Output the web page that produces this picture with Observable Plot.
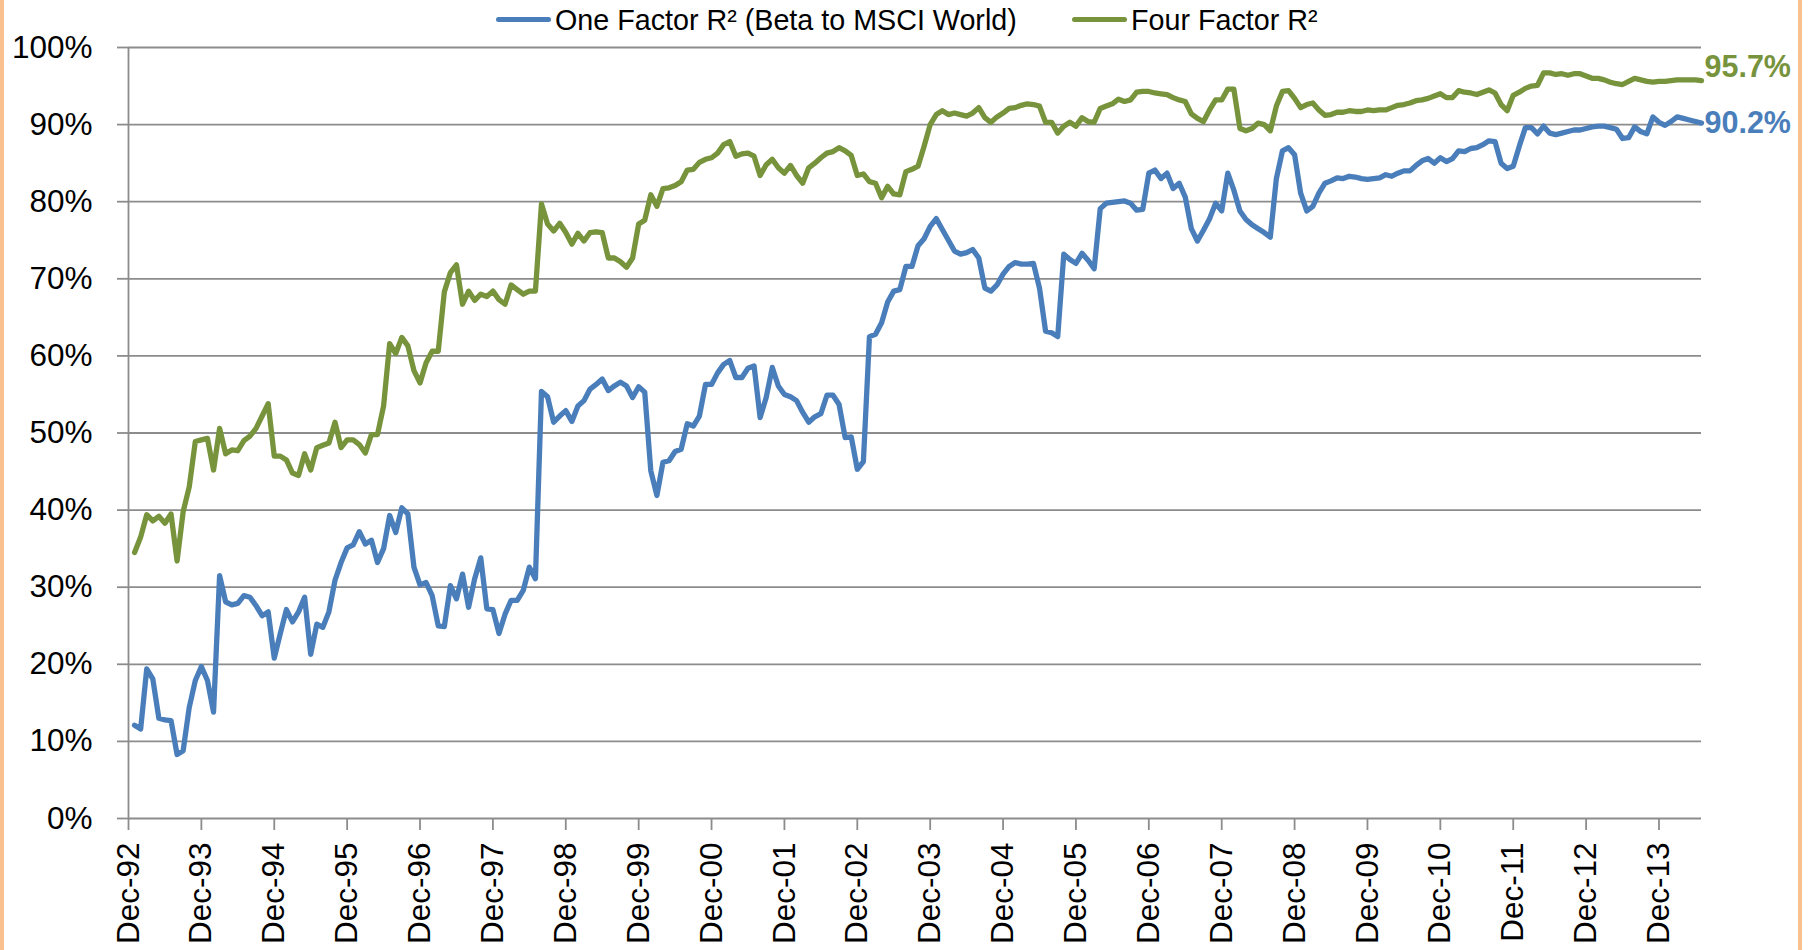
<!DOCTYPE html>
<html><head><meta charset="utf-8">
<script src="https://cdn.jsdelivr.net/npm/d3@7"></script>
<script src="https://cdn.jsdelivr.net/npm/@observablehq/plot@0.6"></script>
<style>
body{margin:0;background:#fff;}
#wrap{position:relative;width:1808px;height:950px;overflow:hidden;background:#fff;font-family:"Liberation Sans",Arial,sans-serif;}
.border{position:absolute;top:0;bottom:0;width:4px;background:#FAC090;}
.leg-line{position:absolute;height:5px;border-radius:3px;}
.leg-text{position:absolute;font-size:28.7px;line-height:1;color:#000;white-space:nowrap;}
#chart{position:absolute;left:0;top:0;}
</style></head>
<body><div id="wrap"><div id="chart"></div></div>
<script>
// ---- data ----
const seriesNames = ["One Factor R\u00B2 (Beta to MSCI World)", "Four Factor R\u00B2"];
const seriesColors = ["#4A7EBB", "#77933C"];
const xTickLabels = ["Dec-92","Dec-93","Dec-94","Dec-95","Dec-96","Dec-97","Dec-98","Dec-99","Dec-00","Dec-01","Dec-02","Dec-03","Dec-04","Dec-05","Dec-06","Dec-07","Dec-08","Dec-09","Dec-10","Dec-11","Dec-12","Dec-13"];
const yTicks = [0,10,20,30,40,50,60,70,80,90,100];
// monthly values, Jan-93 onward (%)
const oneFactor = [
12.1,11.6,19.4,18.1,13.0,12.8,12.7,8.3,8.8,14.4,17.9,19.7,
17.9,13.8,31.5,28.1,27.7,27.9,28.9,28.7,27.6,26.3,26.8,20.8,
24.0,27.1,25.5,26.8,28.7,21.3,25.2,24.8,26.8,30.9,33.2,35.1,
35.5,37.2,35.6,36.1,33.2,35.0,39.3,37.1,40.3,39.5,32.6,30.3,
30.6,28.9,25.0,24.9,30.2,28.5,31.7,27.4,31.1,33.8,27.2,27.1,
24.0,26.5,28.3,28.3,29.6,32.6,31.1,55.4,54.7,51.4,52.2,52.9,
51.5,53.5,54.2,55.7,56.3,57.0,55.5,56.1,56.6,56.1,54.6,56.0,
55.3,45.1,41.9,46.2,46.4,47.6,47.9,51.2,50.9,52.2,56.3,56.3,
57.8,58.9,59.4,57.2,57.2,58.4,58.7,52.0,54.6,58.5,56.1,55.0,
54.7,54.2,52.7,51.4,52.1,52.5,54.9,54.9,53.7,49.4,49.5,45.3,
46.3,62.5,62.8,64.3,67.0,68.4,68.6,71.6,71.6,74.3,75.2,76.8,
77.8,76.4,75.0,73.6,73.2,73.4,73.8,72.7,68.8,68.4,69.2,70.6,
71.6,72.1,71.9,71.9,72.0,68.8,63.2,63.0,62.5,73.2,72.5,72.0,
73.3,72.4,71.3,79.1,79.8,79.9,80.0,80.1,79.8,78.9,79.0,83.7,
84.1,83.0,83.7,81.7,82.4,80.6,76.5,74.9,76.3,77.8,79.8,78.8,
83.7,81.5,78.8,77.7,77.0,76.5,76.0,75.4,83.0,86.6,87.0,86.1,
81.1,78.8,79.4,81.1,82.4,82.7,83.1,83.0,83.3,83.2,83.0,82.9,
83.0,83.1,83.5,83.3,83.7,84.0,84.0,84.7,85.3,85.6,85.0,85.7,
85.2,85.6,86.6,86.5,86.9,87.0,87.4,87.9,87.8,85.0,84.3,84.6,
87.2,89.6,89.6,88.8,89.8,88.9,88.7,88.9,89.1,89.3,89.3,89.5,
89.7,89.8,89.8,89.6,89.4,88.2,88.3,89.7,89.1,88.8,91.0,90.3,
89.9,90.4,91.0,90.8,90.6,90.4,90.2
];
const fourFactor = [
34.5,36.5,39.4,38.6,39.2,38.3,39.5,33.4,39.8,43.0,48.9,49.1,
49.3,45.2,50.6,47.3,47.8,47.7,49.0,49.6,50.6,52.2,53.8,47.0,
47.0,46.5,44.8,44.5,47.3,45.2,48.1,48.4,48.7,51.4,48.1,49.1,
49.1,48.5,47.4,49.8,49.8,53.5,61.6,60.3,62.4,61.3,58.1,56.5,
59.1,60.6,60.6,68.3,70.8,71.8,66.7,68.4,67.2,68.0,67.7,68.4,
67.3,66.7,69.2,68.6,68.0,68.4,68.4,79.7,77.1,76.2,77.2,76.0,
74.5,75.9,74.9,76.0,76.1,76.0,72.7,72.7,72.2,71.5,72.7,77.1,
77.6,80.9,79.4,81.7,81.8,82.1,82.6,84.1,84.2,85.1,85.5,85.7,
86.3,87.4,87.8,85.9,86.2,86.3,85.9,83.4,84.8,85.5,84.4,83.7,
84.7,83.4,82.4,84.4,85.0,85.7,86.3,86.5,87.0,86.6,86.0,83.4,
83.6,82.6,82.4,80.5,82.0,81.0,80.9,83.9,84.2,84.6,87.2,90.0,
91.3,91.8,91.3,91.5,91.3,91.1,91.5,92.2,90.9,90.3,91.0,91.5,
92.1,92.2,92.5,92.7,92.6,92.4,90.3,90.3,88.9,89.8,90.3,89.8,
90.9,90.4,90.3,92.1,92.4,92.7,93.3,93.0,93.2,94.2,94.3,94.3,
94.1,94.0,93.9,93.5,93.2,93.0,91.4,90.8,90.4,91.9,93.2,93.2,
94.6,94.6,89.5,89.2,89.5,90.2,90.0,89.2,92.4,94.3,94.4,93.4,
92.2,92.6,92.8,91.9,91.2,91.3,91.6,91.6,91.8,91.7,91.7,91.9,
91.8,91.9,91.9,92.2,92.5,92.6,92.8,93.1,93.2,93.4,93.7,94.0,
93.5,93.5,94.4,94.2,94.1,93.9,94.2,94.5,94.1,92.6,91.8,93.8,
94.2,94.7,95.0,95.1,96.7,96.7,96.5,96.6,96.4,96.6,96.6,96.3,
96.0,96.0,95.8,95.5,95.3,95.2,95.6,96.0,95.8,95.6,95.5,95.6,
95.6,95.7,95.8,95.8,95.8,95.8,95.7
];

// ---- build ----
const series = [oneFactor, fourFactor];
const nMonths = oneFactor.length;
const xTicks = xTickLabels.map((_, i) => i * 12);
const gridColor = "#8C8C8C";

const endLabels = series.map((s, k) => ({
  m: s.length, v: s[s.length - 1], text: s[s.length - 1].toFixed(1) + "%",
  color: seriesColors[k], dy: k === 1 ? -13 : 0
}));

const marks = [
  Plot.ruleY(yTicks, {y: d => d, stroke: gridColor, strokeWidth: 1.8}),
  Plot.ruleX([0], {x: d => d, stroke: gridColor, strokeWidth: 1.8}),
  Plot.axisX({ticks: xTicks, tickFormat: d => xTickLabels[d / 12], tickRotate: -90,
    tickSize: 12, tickPadding: 12, stroke: gridColor, strokeWidth: 1.8, fill: "#000", fontSize: 31.5, label: null}),
  Plot.axisY({ticks: yTicks, tickFormat: d => d + "%", tickSize: 11, tickPadding: 25,
    stroke: gridColor, strokeWidth: 1.8, fill: "#000", fontSize: 31.5, label: null})
];
series.forEach((s, k) => {
  marks.push(Plot.line(s, {x: (d, i) => i + 1, y: d => d, stroke: seriesColors[k],
    strokeWidth: 5.3, strokeLinejoin: "round", strokeLinecap: "round"}));
});
endLabels.forEach(l => {
  marks.push(Plot.text([l], {x: "m", y: "v", text: "text", fill: l.color, dx: 3, dy: l.dy,
    textAnchor: "start", fontWeight: "bold", fontSize: 30.5}));
});

const chart = Plot.plot({
  width: 1808, height: 950,
  marginLeft: 128, marginRight: 107, marginTop: 47, marginBottom: 132,
  style: {fontFamily: "'Liberation Sans', Arial, sans-serif", background: "transparent", color: "#000", overflow: "visible"},
  x: {type: "linear", domain: [0, nMonths], label: null},
  y: {domain: [0, 100], label: null},
  marks
});
document.getElementById("chart").appendChild(chart);

// legend + frame
const wrap = document.getElementById("wrap");
const legendPos = [{line: 496, text: 555}, {line: 1072, text: 1131}];
seriesNames.forEach((name, k) => {
  const ln = document.createElement("div");
  ln.className = "leg-line";
  ln.style.cssText = `left:${legendPos[k].line}px;top:17px;width:55px;background:${seriesColors[k]}`;
  wrap.appendChild(ln);
  const tx = document.createElement("div");
  tx.className = "leg-text";
  tx.style.cssText = `left:${legendPos[k].text}px;top:6px;`;
  tx.textContent = name;
  wrap.appendChild(tx);
});
[0, 1798].forEach(x => {
  const b = document.createElement("div");
  b.className = "border";
  b.style.left = x + "px";
  wrap.appendChild(b);
});
</script>
</body></html>
